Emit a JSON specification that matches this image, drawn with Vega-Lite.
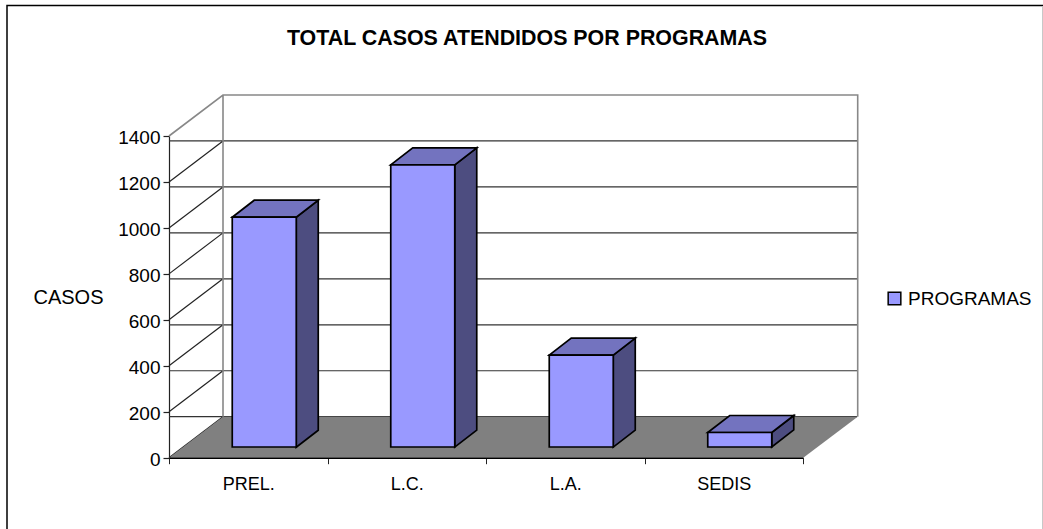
{
"$schema":"https://vega.github.io/schema/vega-lite/v6.json",
"autosize":{"type":"none"},
"padding":{"left":169,"top":136,"right":240,"bottom":71.3},
"width":634,"height":321.7,
"background":"white",
"config":{"view":{"stroke":null},"font":"Liberation Sans"},
"title":{"text":"TOTAL CASOS ATENDIDOS POR PROGRAMAS","font":"Liberation Sans","fontSize":21.4,"fontWeight":"bold","color":"#000","anchor":"middle","dx":41,"offset":-47},
"datasets":{
"bars":[{"programa":"PREL.","casos":1000},{"programa":"L.C.","casos":1228},{"programa":"L.A.","casos":400},{"programa":"SEDIS","casos":63}],
"grid":[{"v":0},{"v":200},{"v":400},{"v":600},{"v":800},{"v":1000},{"v":1200}],
"one":[{"v":0}]
},
"layer":[
{"data":{"name":"one"},"mark":{"type":"point","filled":false,"stroke":"#000","strokeWidth":1.5,"size":4,"opacity":1},
 "encoding":{"x":{"datum":"PREL.","bandPosition":0,"type":"nominal"},"y":{"datum":0,"type":"quantitative"},
 "shape":{"value":"M-162,72 L-162,-452.2 L874,-452.2"}}},
{"data":{"name":"one"},"mark":{"type":"point","filled":false,"stroke":"#c8c8c8","strokeWidth":1,"size":4,"opacity":1},
 "encoding":{"x":{"datum":"PREL.","bandPosition":0,"type":"nominal"},"y":{"datum":0,"type":"quantitative"},
 "shape":{"value":"M873.5,-451 L873.5,72"}}},
{"data":{"name":"grid"},"mark":{"type":"rule","stroke":"#333","strokeWidth":1.2,"xOffset":54,"yOffset":-41},
 "encoding":{"y":{"field":"v","type":"quantitative","scale":{"domain":[0,1400],"nice":false},
   "axis":{"values":[0,200,400,600,800,1000,1200,1400],"format":"d","grid":false,"title":"CASOS","titleAngle":0,"titleFontSize":20,"titleFontWeight":"normal","titleColor":"#000","titleX":-101,"titleY":161,"titleAlign":"center","titleBaseline":"middle","labelFontSize":19,"labelColor":"#000","labelPadding":3,"labelOffset":1.5,"tickColor":"#222","domainColor":"#222","tickSize":6,"domainWidth":1.2,"tickWidth":1.2}}}},
{"data":{"name":"grid"},"mark":{"type":"point","filled":false,"stroke":"#222","strokeWidth":1.2,"size":4,"opacity":1},
 "encoding":{"x":{"datum":"PREL.","bandPosition":0,"type":"nominal"},"y":{"field":"v","type":"quantitative"},"shape":{"value":"M0,0 L54,-41"}}},
{"data":{"name":"one"},"mark":{"type":"point","filled":false,"stroke":"#888","strokeWidth":1.6,"size":4,"opacity":1},
 "encoding":{"x":{"datum":"PREL.","bandPosition":0,"type":"nominal"},"y":{"datum":1400,"type":"quantitative"},"shape":{"value":"M0,0 L54,-41 L688.7,-41 L688.7,280.7 M54,-41 L54,280.7"}}},
{"data":{"name":"one"},"mark":{"type":"point","filled":true,"fill":"#808080","strokeWidth":0,"size":4,"opacity":1},
 "encoding":{"x":{"datum":"PREL.","bandPosition":0,"type":"nominal"},"y":{"datum":0,"type":"quantitative"},"shape":{"value":"M0,0 L54,-41 L688.7,-41 L634.3,0 Z"}}},
{"data":{"name":"bars"},"mark":{"type":"point","filled":true,"fill":"#4d4d80","stroke":"#000","strokeWidth":1.7,"size":4,"opacity":1,"yOffset":-10.7},
 "encoding":{"x":{"field":"programa","type":"nominal"},"y":{"field":"casos","type":"quantitative"},
  "shape":{"field":"programa","type":"nominal","legend":null,"scale":{"domain":["PREL.","L.C.","L.A.","SEDIS"],"range":["M48,0 L70,-17 L70,213 L48,230 Z","M48,0 L70,-17 L70,265.3 L48,282.3 Z","M48,0 L70,-17 L70,75 L48,92 Z","M48,0 L70,-17 L70,-2.6 L48,14.4 Z"]}}}},
{"data":{"name":"bars"},"mark":{"type":"point","filled":true,"fill":"#7373bf","stroke":"#000","strokeWidth":1.7,"size":4,"opacity":1,"yOffset":-10.7},
 "encoding":{"x":{"field":"programa","type":"nominal"},"y":{"field":"casos","type":"quantitative"},"shape":{"value":"M-16,0 L48,0 L70,-17 L6,-17 Z"}}},
{"data":{"name":"bars"},"mark":{"type":"bar","width":64,"stroke":"#000","strokeWidth":1.7,"xOffset":16,"yOffset":-10.7},
 "encoding":{"x":{"field":"programa","type":"nominal","sort":null,"scale":{"type":"band","domain":["PREL.","L.C.","L.A.","SEDIS"],"paddingInner":0,"paddingOuter":0},
   "axis":{"title":null,"labelAngle":0,"labelAlign":"center","labelFontSize":18,"labelColor":"#000","labelPadding":21,"tickBand":"extent","tickColor":"#222","tickSize":6,"domainColor":"#000","domainWidth":1.5,"zindex":1}},
  "y":{"field":"casos","type":"quantitative"},
  "color":{"datum":"PROGRAMAS","type":"nominal","scale":{"range":["#9999ff"]},
   "legend":{"title":null,"orient":"none","legendX":716,"legendY":153,"symbolType":"square","symbolSize":160,"symbolStrokeColor":"#000","symbolStrokeWidth":1.5,"labelFontSize":19,"labelColor":"#000","labelOffset":4}}}}
],
"resolve":{"scale":{"x":"shared","y":"shared"}}
}
